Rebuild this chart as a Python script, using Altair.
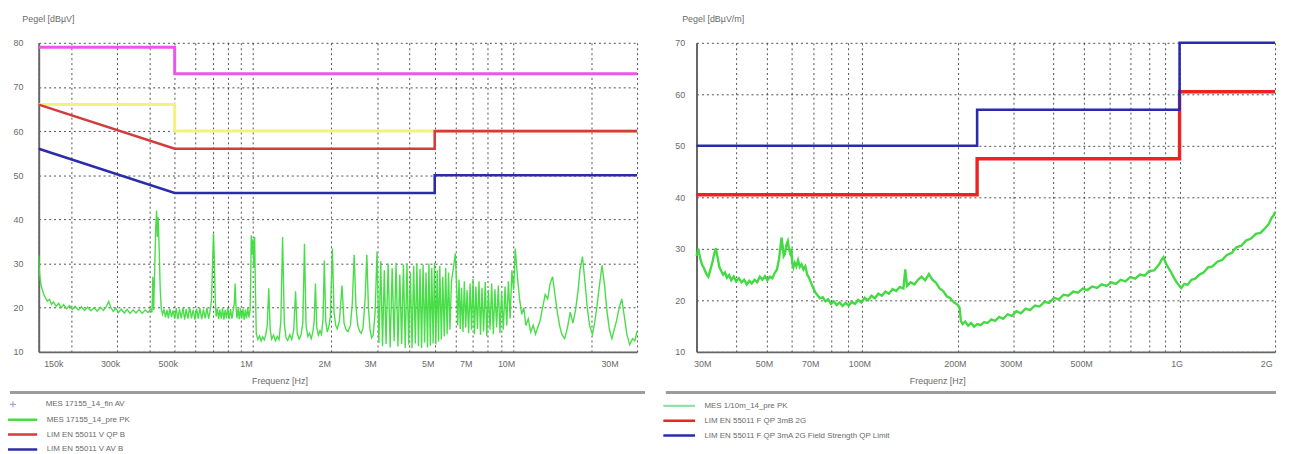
import altair as alt
import pandas as pd

FONT = "Liberation Sans"
TXT = "#6a6a6a"

# ---------------- LEFT PANEL: conducted emission, 150 kHz - 30 MHz ----------------
left_pk_freq = [
    0.150, 0.1505, 0.151, 0.152, 0.153, 0.155, 0.157, 0.159, 0.162, 0.165, 0.168, 0.171, 0.175, 0.179,
    0.183, 0.187, 0.192, 0.197, 0.202, 0.207, 0.213, 0.219, 0.225, 0.231, 0.238, 0.245, 0.252, 0.259,
    0.266, 0.273, 0.279, 0.284, 0.290, 0.297, 0.304, 0.312, 0.320, 0.328, 0.337, 0.346, 0.355, 0.365,
    0.375, 0.385, 0.395, 0.404, 0.409,
    0.412, 0.415, 0.419, 0.423, 0.426, 0.429, 0.432, 0.436, 0.440, 0.444, 0.449,
    0.455, 0.461, 0.467, 0.473, 0.479, 0.486, 0.493, 0.500, 0.507, 0.514, 0.522, 0.530, 0.538, 0.546,
    0.554, 0.562, 0.571, 0.580, 0.589, 0.598, 0.607, 0.616, 0.625, 0.635, 0.645, 0.655, 0.665, 0.675,
    0.685, 0.693, 0.700, 0.705, 0.710, 0.716, 0.722, 0.730, 0.738, 0.746, 0.755, 0.764, 0.773, 0.782,
    0.791, 0.800, 0.810, 0.820, 0.830, 0.840, 0.848, 0.854, 0.860, 0.868, 0.877, 0.886, 0.895, 0.905,
    0.915, 0.925, 0.935, 0.945, 0.955, 0.965, 0.975, 0.980, 0.985, 0.992, 1.000, 1.008, 1.015, 1.022,
    1.030, 1.045, 1.060, 1.075, 1.090, 1.105, 1.120, 1.135, 1.150, 1.165, 1.180, 1.200, 1.220, 1.240,
    1.260, 1.280, 1.300, 1.320, 1.340, 1.360, 1.385, 1.410, 1.435, 1.458, 1.480, 1.505, 1.530, 1.555,
    1.578, 1.600, 1.625, 1.650, 1.675, 1.700, 1.720, 1.739, 1.760, 1.785, 1.810, 1.835, 1.860, 1.881,
    1.905, 1.930, 1.955, 1.985, 2.020, 2.050, 2.080, 2.110, 2.150, 2.200, 2.240, 2.280, 2.320, 2.370,
    2.410, 2.450, 2.490, 2.530, 2.570, 2.610, 2.650, 2.700, 2.740, 2.780, 2.820, 2.860, 2.900, 2.950,
    3.000,
    3.05, 3.10, 3.15, 3.20, 3.25, 3.31, 3.37, 3.43, 3.49, 3.55, 3.61, 3.67, 3.73, 3.79, 3.85, 3.91,
    3.97, 4.03, 4.09, 4.15, 4.21, 4.27, 4.33, 4.39, 4.45, 4.51, 4.57, 4.63, 4.69, 4.75, 4.81, 4.87,
    4.93, 4.99, 5.05, 5.11, 5.17, 5.23, 5.30, 5.37, 5.44, 5.51, 5.58, 5.65, 5.72, 5.80,
    5.90, 6.00, 6.07, 6.13, 6.20, 6.27, 6.34, 6.42, 6.50, 6.58, 6.66, 6.75, 6.84, 6.93, 7.02, 7.11,
    7.20, 7.30, 7.40, 7.50, 7.60, 7.71, 7.82, 7.93, 8.04, 8.16, 8.28, 8.40, 8.52, 8.65, 8.78, 8.91,
    9.04, 9.18, 9.32, 9.46, 9.60, 9.75, 9.90, 10.05, 10.20,
    10.40, 10.60, 10.80, 11.00, 11.20, 11.45, 11.70, 11.95, 12.20, 12.45, 12.70, 13.00, 13.30, 13.60,
    13.90, 14.20, 14.50, 14.80, 15.10, 15.40, 15.80, 16.20, 16.60, 17.00, 17.40, 17.80, 18.10, 18.50,
    18.90, 19.30, 19.70, 20.20, 20.60, 21.00, 21.50, 22.00, 22.50, 23.00, 23.50, 24.00, 24.50, 25.00,
    25.60, 26.20, 26.80, 27.40, 28.10, 28.80, 29.40, 30.00,
]
left_pk_level = [
    31.8, 29.5, 28.0, 26.5, 25.2, 24.0, 23.0, 22.3, 21.5, 21.9, 20.8, 21.3, 20.3, 21.0,
    20.0, 20.7, 19.8, 20.5, 19.6, 20.3, 19.5, 20.2, 19.4, 20.1, 19.3, 20.0, 19.2, 20.1,
    19.4, 20.3, 21.4, 20.0, 19.2, 19.9, 18.9, 19.7, 18.8, 19.6, 18.7, 19.5, 18.8, 19.6,
    18.7, 19.5, 18.9, 19.7, 18.9,
    27.0, 19.5, 29.0, 38.5, 42.0, 36.0, 40.5, 33.0, 24.0, 19.8, 18.5,
    19.6, 17.8, 19.5, 17.6, 19.8, 17.9, 19.4, 17.5, 19.9, 17.4, 19.6, 17.6, 20.0, 17.3,
    19.7, 17.5, 20.1, 17.6, 19.5, 17.3, 19.8, 17.5, 19.9, 17.4, 19.6, 17.6, 20.0, 17.5,
    19.4, 22.0, 31.0, 36.8, 31.5, 22.0, 18.0, 19.8, 17.4, 19.6, 17.5, 19.9, 17.3, 19.5,
    17.6, 20.0, 17.4, 19.7, 17.5, 19.6, 21.0, 25.5, 20.5, 17.6, 19.8, 17.4, 19.9, 17.5,
    19.7, 17.3, 19.6, 17.6, 20.0, 17.8, 19.5, 26.0, 36.4, 32.0, 35.5, 29.0, 36.0, 24.0,
    14.0, 12.8, 13.6, 12.5, 13.4, 12.7, 13.9, 16.0, 24.4, 15.0, 12.9, 13.8, 12.5, 13.5,
    12.8, 17.0, 36.0, 16.5, 13.2, 12.6, 13.9, 12.8, 15.0, 23.7, 14.2, 12.9, 13.8, 16.5,
    34.5, 16.0, 13.5, 14.2, 13.0, 14.6, 17.0, 25.5, 15.5, 13.8, 14.8, 14.0, 17.5, 30.7,
    17.0, 14.5, 15.5, 18.0, 33.4, 19.0, 16.0, 15.2, 17.0, 25.0, 16.5, 15.0, 14.6, 16.0,
    21.0, 32.0, 20.0, 16.0, 14.7, 14.2, 15.5, 22.0, 32.0, 20.0, 15.0, 13.2, 13.8, 19.0,
    32.7,
    12.0, 30.5, 11.3, 28.5, 11.8, 30.0, 11.0, 29.0, 12.4, 30.2, 11.2, 27.5, 11.8, 29.8, 10.9, 30.0,
    11.6, 28.0, 10.8, 29.5, 11.9, 30.0, 11.3, 28.8, 10.9, 29.8, 12.1, 28.0, 11.0, 30.0, 11.4, 29.0,
    11.9, 30.2, 11.7, 28.5, 12.3, 29.5, 12.8, 27.0, 13.5, 29.0, 14.0, 28.0, 15.0, 26.0,
    29.0, 32.3, 25.0, 16.0, 26.4, 15.2, 24.5, 14.5, 26.0, 15.5, 24.0, 14.2, 25.5, 15.0, 26.5, 14.0,
    24.8, 15.2, 26.0, 13.8, 24.5, 14.6, 25.8, 13.5, 24.0, 15.0, 25.5, 14.0, 24.2, 15.5, 25.0, 14.2,
    23.5, 15.0, 24.8, 16.0, 26.0, 17.5, 28.5, 24.0, 33.4,
    27.0, 22.0, 18.5, 20.0, 16.0, 17.5, 14.5, 16.0, 14.0, 15.5, 17.0, 20.0, 23.0, 22.0,
    25.5, 27.0, 23.0, 19.0, 16.0, 14.0, 13.0, 15.5, 19.0, 16.5, 19.5, 24.0, 28.5, 31.6,
    26.0, 20.0, 16.0, 14.0, 16.5, 20.0, 25.0, 29.6, 25.0, 19.0, 15.0, 13.0, 15.0, 17.0,
    20.0, 22.0, 18.0, 14.0, 11.6, 13.0, 12.5, 14.7,
]

# limit lines (EN 55011, conducted)
left_qpb_freq = [0.15, 0.5, 5.0, 5.0, 30.0]
left_qpb_level = [66, 56, 56, 60, 60]
left_avb_freq = [0.15, 0.5, 5.0, 5.0, 30.0]
left_avb_level = [56, 46, 46, 50, 50]
left_qpa_freq = [0.15, 0.5, 0.5, 30.0]
left_qpa_level = [79, 79, 73, 73]
left_ava_freq = [0.15, 0.5, 0.5, 30.0]
left_ava_level = [66, 66, 60, 60]

left_grid_freq = [0.15, 0.2, 0.3, 0.4, 0.5, 0.6, 0.7, 0.8, 0.9, 1, 2, 3, 4, 5, 6, 7, 8, 9, 10, 20, 30]
left_tick_freq = [0.15, 0.3, 0.5, 1, 2, 3, 5, 7, 10, 30]
left_tick_text = ["150k", "300k", "500k", "1M", "2M", "3M", "5M", "7M", "10M", "30M"]
left_level_ticks = [10, 20, 30, 40, 50, 60, 70, 80]

left_av_series = ["MES 17155_14_fin AV"]
left_series = ["MES 17155_14_pre PK", "LIM EN 55011 V QP B", "LIM EN 55011 V AV B"]
left_colors = ["#44dd44", "#d23c3c", "#2c2caa"]
left_trace_color = "#3fdc3f"

# ---------------- RIGHT PANEL: radiated emission, 30 MHz - 2 GHz ----------------
right_pk_freq = [
    30.0, 30.4, 30.8, 31.2, 31.7, 32.2, 32.7, 33.2, 33.7, 34.1, 34.5, 34.9, 35.4, 35.9, 36.4, 36.9,
    37.4, 38.0, 38.6, 39.3, 40.0, 40.8, 41.6, 42.4, 43.2, 44.0, 44.8, 45.7, 46.6, 47.5, 48.4, 49.3,
    50.2, 51.1, 52.0, 52.9, 53.8, 54.6, 55.2, 55.6, 56.0, 56.5, 57.0, 57.6, 58.2, 58.7, 59.2, 59.7,
    60.1, 60.6, 61.2, 61.9, 62.7, 63.5, 64.3, 65.2, 66.1, 67.0, 67.9, 68.9, 69.9, 71.0, 72.2, 73.5,
    75.0, 76.5, 78.0, 79.6, 81.3, 83.0, 84.8, 86.6, 88.5, 90.5, 92.6, 94.8, 97.0, 99.3, 101.7, 104.2,
    106.8, 109.5, 112.3, 115.2, 118.2, 121.3, 124.5, 127.8, 131.2, 134.7, 136.5, 138.3, 142.0, 145.8,
    149.7, 153.7, 157.8, 162.0, 166.3, 170.7, 175.2, 179.8, 184.5, 189.3, 194.2, 199.2, 202.5, 204.5,
    207.0, 211.0, 215.5, 220.0, 225.0, 230.5, 236.0, 242.0, 248.0, 255.0, 262.0, 270.0, 278.0, 287.0,
    296.0, 306.0, 316.0, 327.0, 338.0, 350.0, 362.0, 375.0, 388.0, 402.0, 416.0, 431.0, 446.0, 462.0,
    478.0, 495.0, 512.0, 530.0, 549.0, 568.0, 588.0, 609.0, 630.0, 652.0, 675.0, 699.0, 724.0, 750.0,
    776.0, 803.0, 831.0, 860.0, 880.0, 890.0, 905.0, 922.0, 940.0, 958.0, 976.0, 994.0, 1012.0, 1035.0,
    1060.0, 1090.0, 1120.0, 1155.0, 1190.0, 1230.0, 1270.0, 1315.0, 1360.0, 1410.0, 1460.0, 1510.0,
    1565.0, 1620.0, 1680.0, 1740.0, 1800.0, 1860.0, 1910.0, 1950.0, 1980.0, 2000.0,
]
right_pk_level = [
    28.6, 30.0, 28.2, 27.0, 26.2, 25.2, 24.6, 26.0, 27.5, 29.0, 30.1, 28.6, 26.5, 25.7, 25.0, 25.4,
    24.4, 24.9, 23.9, 24.6, 23.7, 24.3, 23.5, 24.0, 23.1, 23.8, 23.3, 24.0, 23.5, 24.6, 24.0, 24.7,
    23.9, 24.6, 24.3, 25.3, 26.0, 28.0, 30.5, 32.2, 30.8, 28.6, 29.0, 30.8, 31.5, 30.0, 29.2, 30.0,
    27.2, 26.4, 27.3, 26.6, 27.8, 26.5, 27.0, 26.0, 26.6, 25.0, 24.4, 23.4, 22.5, 21.6, 21.0, 20.4,
    20.6, 19.8, 20.2, 19.3, 19.8, 19.1, 19.6, 18.9, 19.5, 19.0, 19.7, 19.3, 20.1, 19.6, 20.5, 20.0,
    20.9, 20.4, 21.3, 20.9, 21.7, 21.3, 22.2, 21.8, 22.6, 22.3, 26.0, 22.8, 23.5, 23.1,
    24.0, 24.6, 23.9, 25.1, 24.0, 23.4, 22.3, 21.8, 20.8, 20.4, 19.6, 19.2, 18.6, 16.0,
    15.4, 15.9, 15.1, 15.6, 14.9, 15.4, 15.2, 15.8, 15.6, 16.3, 16.0, 16.8, 16.4, 17.3,
    17.0, 17.9, 17.5, 18.4, 18.1, 19.0, 18.8, 19.7, 19.5, 20.5, 20.2, 21.1, 20.9, 21.7,
    21.5, 22.3, 22.0, 22.7, 22.4, 23.1, 22.8, 23.5, 23.2, 24.0, 23.7, 24.5, 24.2, 25.0,
    24.8, 25.7, 25.8, 26.9, 28.0, 28.4, 27.2, 26.3, 25.5, 24.5, 23.6, 23.0, 22.4, 23.2,
    23.0, 24.0, 24.2, 25.0, 25.4, 26.4, 26.6, 27.5, 27.8, 28.8, 29.2, 30.3,
    30.6, 31.6, 32.0, 32.9, 33.1, 34.0, 34.8, 36.0, 36.5, 37.2,
]

right_qpb_freq = [30, 230, 230, 1000, 1000, 2000]
right_qpb_level = [40.5, 40.5, 47.5, 47.5, 60.5, 60.5]
right_qpa_freq = [30, 230, 230, 1000, 1000, 2000]
right_qpa_level = [50, 50, 57, 57, 70, 70]

right_grid_freq = [30, 40, 50, 60, 70, 80, 90, 100, 200, 300, 400, 500, 600, 700, 800, 900, 1000, 2000]
right_tick_freq = [30, 50, 70, 100, 200, 300, 500, 1000, 2000]
right_tick_text = ["30M", "50M", "70M", "100M", "200M", "300M", "500M", "1G", "2G"]
right_level_ticks = [10, 20, 30, 40, 50, 60, 70]

right_series = ["MES 1/10m_14_pre PK", "LIM EN 55011 F QP 3mB 2G",
                "LIM EN 55011 F QP 3mA 2G  Field Strength QP Limit"]
right_colors = ["#8fe3a8", "#ee2222", "#2a2ab0"]
right_trace_color = "#3ad83a"


def label_expr(vals, texts):
    expr = "''"
    for v, t in reversed(list(zip(vals, texts))):
        expr = f"abs(datum.value - {v}) < {v * 1e-4} ? '{t}' : {expr}"
    return expr


def frame(freq, level, name):
    return pd.DataFrame({"f": freq, "L": level, "s": name, "i": list(range(len(freq)))})


def panel(trace, trace_color, trace_w, limits, extras, series, colors, fdom, grid_f, tick_f,
          tick_t, lab_off, flush_off, ydom, yticks, ytitle, w, h, ylab_pad, ytitle_x, sep_x,
          sep_x2, legend_y, av_series=None):
    x = alt.X("f:Q", scale=alt.Scale(type="log", domain=fdom, nice=False),
              axis=alt.Axis(values=grid_f, labelExpr=label_expr(tick_f, tick_t),
                            title="Frequenz [Hz]", titleX=243, titleY=29,
                            titleAlign="center", titleBaseline="middle",
                            labelFlush=True, labelFlushOffset=flush_off, labelOffset=lab_off,
                            labelPadding=8, labelOverlap=False))
    y = alt.Y("L:Q", scale=alt.Scale(domain=ydom, nice=False),
              axis=alt.Axis(values=yticks, title=ytitle, titleAngle=0, titleAlign="left",
                            titleX=ytitle_x, titleY=-24, titleBaseline="middle",
                            labelPadding=ylab_pad))
    color = alt.Color("s:N", scale=alt.Scale(domain=series, range=colors),
                      legend=alt.Legend(title=None, orient="none", legendX=-31, legendY=legend_y,
                                        direction="vertical", symbolType="M-3.2,0H3.2",
                                        symbolSize=100, symbolOffset=7,
                                        symbolStrokeWidth=2.5, labelFont=FONT, labelFontSize=8,
                                        labelColor=TXT, labelLimit=600, labelOffset=19,
                                        rowPadding=3, padding=0))
    order = alt.Order("i:Q")

    layers = [alt.Chart(trace).mark_line(strokeWidth=trace_w, color=trace_color,
                                         opacity=0.95).encode(x=x, y=y, order=order)]
    for df, col, sw in extras:
        layers.append(alt.Chart(df).mark_line(strokeWidth=sw, color=col).encode(
            x=x, y=y, order=order))
    for df, sw in limits:
        layers.append(alt.Chart(df).mark_line(strokeWidth=sw).encode(
            x=x, y=y, color=color, order=order))
    if av_series is not None:
        # final AV measurement points (none in this scan): "+" markers
        av = pd.DataFrame({"f": pd.Series([], dtype=float), "L": pd.Series([], dtype=float),
                           "s2": pd.Series([], dtype=str)})
        layers.append(alt.Chart(av).mark_point(shape="M-1,0H1M0,-1V1", size=36).encode(
            x=x, y=y,
            shape=alt.Shape("s2:N", scale=alt.Scale(domain=av_series, range=["M-1,0H1M0,-1V1"]),
                            legend=alt.Legend(title=None, orient="none", legendX=-31,
                                              legendY=legend_y - 13, symbolSize=36,
                                              symbolType="M-1,0H1M0,-1V1",
                                              symbolStrokeColor="#5a6ccc",
                                              symbolStrokeWidth=1, symbolOffset=1,
                                              labelFont=FONT, labelFontSize=8, labelColor=TXT,
                                              labelLimit=600, labelOffset=29, padding=0))))
    layers.append(alt.Chart(pd.DataFrame({"k": [0]})).mark_rule(
        color="#9c9c9c", strokeWidth=3).encode(
        x=alt.value(sep_x), x2=alt.value(sep_x2), y=alt.value(h + 41)))
    return alt.layer(*layers).properties(width=w, height=h)


left = panel(
    frame(left_pk_freq, left_pk_level, left_series[0]), left_trace_color, 1.4,
    [(frame(left_qpb_freq, left_qpb_level, left_series[1]), 2.6),
     (frame(left_avb_freq, left_avb_level, left_series[2]), 2.6)],
    [(frame(left_qpa_freq, left_qpa_level, "A QP"), "#ee55ee", 3),
     (frame(left_ava_freq, left_ava_level, "A AV"), "#f3f37a", 3)],
    left_series, left_colors, [0.15, 30], left_grid_freq, left_tick_freq, left_tick_text, -7, -12,
    [10, 80], left_level_ticks, "Pegel [dBµV]", 604, 312, 16, -17, -29, 612, 374,
    av_series=left_av_series,
)

right = panel(
    frame(right_pk_freq, right_pk_level, right_series[0]), right_trace_color, 2.4,
    [(frame(right_qpb_freq, right_qpb_level, right_series[1]), 3.4),
     (frame(right_qpa_freq, right_qpa_level, right_series[2]), 2.6)],
    [],
    right_series, right_colors, [30, 2000], right_grid_freq, right_tick_freq, right_tick_text, -3, 0,
    [10, 70], right_level_ticks, "Pegel [dBµV/m]", 584, 312, 12, -15, -31, 585, 360,
)

chart = alt.hconcat(left, right, spacing=17).resolve_scale(
    x="independent", y="independent", color="independent", shape="independent"
).resolve_legend(color="independent", shape="independent").configure(
    padding={"left": 0, "top": 5, "right": 0, "bottom": 0}
).configure_view(strokeWidth=0).configure_axis(
    domainColor="#666", domainWidth=2, ticks=False,
    gridColor="#222", gridDash=[2, 3], gridOpacity=0.8, gridWidth=1,
    labelFont=FONT, labelFontSize=9, labelColor=TXT,
    titleFont=FONT, titleFontSize=9, titleColor=TXT, titleFontWeight="normal",
)

chart.save("out.html", embed_options={"renderer": "svg", "actions": False})
